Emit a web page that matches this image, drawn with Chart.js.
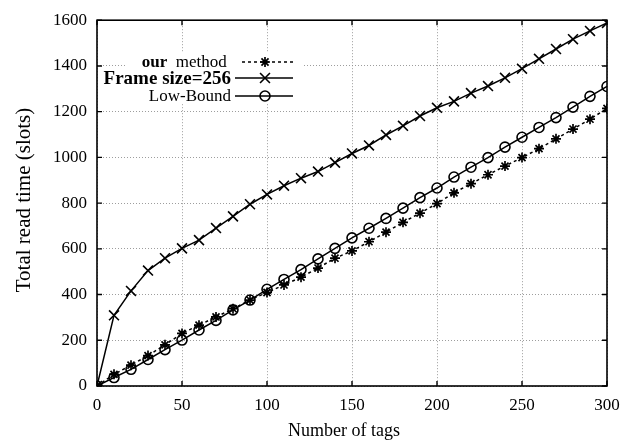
<!DOCTYPE html>
<html>
<head>
<meta charset="utf-8">
<script src="https://cdn.jsdelivr.net/npm/chart.js@4/dist/chart.umd.min.js"></script>
<style>
  html, body { margin: 0; padding: 0; background: #fff; }
  #wrap { width: 631px; height: 443px; }
</style>
</head>
<body>
<div id="wrap"><canvas id="c" width="631" height="443"></canvas></div>
<script>
// ---- data ----
const tags = [0,10,20,30,40,50,60,70,80,90,100,110,120,130,140,150,160,170,180,190,200,210,220,230,240,250,260,270,280,290,300];
const ourMethod = [0,51,91,133,180,230,266,302,338,376,409,442,476,516,559,591,631,673,716,756,798,845,885,924,962,999,1038,1081,1124,1167,1214];
const frame256 = [0,309,416,505,559,602,638,691,742,795,838,876,909,938,977,1017,1052,1098,1138,1181,1217,1245,1281,1312,1348,1388,1431,1474,1517,1553,1588];
const lowBound = [0,37,73,116,159,201,245,287,333,376,423,466,509,556,602,648,690,733,778,824,866,914,957,999,1045,1088,1131,1174,1220,1267,1310];
const seriesLabels = ['our  method', 'Frame size=256', 'Low-Bound'];
const xTicks = [0,50,100,150,200,250,300];
const yTicks = [0,200,400,600,800,1000,1200,1400,1600];
const xTitle = 'Number of tags';
const yTitle = 'Total read time (slots)';

const SERIF = '"Liberation Serif", "Times New Roman", serif';
const toXY = (arr) => arr.map((v, i) => ({ x: tags[i], y: v }));

const legendFonts = [
  [{ t: 'our', f: 'bold 17px ' + SERIF }, { t: '  method ', f: '17px ' + SERIF }],
  [{ t: 'Frame size=256', f: 'bold 19px ' + SERIF }],
  [{ t: 'Low-Bound', f: '17px ' + SERIF }]
];

const framePlugin = {
  id: 'gnuplotFrame',
  afterDraw(chart) {
    const ctx = chart.ctx;
    const a = chart.chartArea;
    const xs = chart.scales.x, ys = chart.scales.y;
    ctx.save();
    // legend (white box + entries)
    ctx.fillStyle = '#fff';
    ctx.fillRect(127, 53, 176, 51);
    const rowsY = [62, 78, 96];
    const textRight = 231;
    chart.data.datasets.forEach((ds, i) => {
      const y = rowsY[i];
      const parts = legendFonts[i];
      let total = 0;
      parts.forEach(p => { ctx.font = p.f; total += ctx.measureText(p.t).width; });
      let x = textRight - total;
      ctx.fillStyle = '#000';
      ctx.textBaseline = 'middle';
      ctx.textAlign = 'left';
      parts.forEach(p => { ctx.font = p.f; ctx.fillText(p.t, x, y + 1); x += ctx.measureText(p.t).width; });
      ctx.strokeStyle = '#000';
      ctx.lineWidth = ds.borderWidth;
      ctx.setLineDash(ds.borderDash || []);
      ctx.beginPath();
      ctx.moveTo(i === 0 ? 242 : 235, y);
      ctx.lineTo(293, y);
      ctx.stroke();
      ctx.setLineDash([]);
      ctx.lineWidth = ds.pointBorderWidth;
      ctx.fillStyle = ds.pointBackgroundColor;
      Chart.helpers.drawPoint(ctx, { pointStyle: ds.pointStyle, radius: ds.pointRadius, rotation: 0, borderWidth: ds.pointBorderWidth }, 265, y);
    });
    // border
    ctx.setLineDash([]);
    ctx.strokeStyle = '#000';
    ctx.lineWidth = 1.6;
    ctx.strokeRect(a.left, a.top, a.right - a.left, a.bottom - a.top);
    // inward ticks
    ctx.lineWidth = 1.4;
    const tl = 5;
    ctx.beginPath();
    xTicks.forEach(v => {
      const px = xs.getPixelForValue(v);
      ctx.moveTo(px, a.bottom); ctx.lineTo(px, a.bottom - tl);
      ctx.moveTo(px, a.top); ctx.lineTo(px, a.top + tl);
    });
    yTicks.forEach(v => {
      const py = ys.getPixelForValue(v);
      ctx.moveTo(a.left, py); ctx.lineTo(a.left + tl, py);
      ctx.moveTo(a.right, py); ctx.lineTo(a.right - tl, py);
    });
    ctx.stroke();
    // axis titles
    ctx.fillStyle = '#000';
    ctx.textAlign = 'center';
    ctx.textBaseline = 'middle';
    ctx.font = '18px ' + SERIF;
    ctx.fillText(xTitle, 344, 431);
    ctx.translate(24, 200);
    ctx.rotate(-Math.PI / 2);
    ctx.font = '21px ' + SERIF;
    ctx.fillText(yTitle, 0, 0);
    ctx.restore();
  }
};

new Chart(document.getElementById('c'), {
  type: 'line',
  data: {
    datasets: [
      {
        label: seriesLabels[0], data: toXY(ourMethod),
        borderColor: '#000', borderWidth: 1.5, borderDash: [3, 3],
        pointStyle: 'star', pointRadius: 5, pointBorderWidth: 1.7,
        pointBorderColor: '#000', pointBackgroundColor: '#000', fill: false, tension: 0
      },
      {
        label: seriesLabels[1], data: toXY(frame256),
        borderColor: '#000', borderWidth: 1.5, borderDash: [],
        pointStyle: 'crossRot', pointRadius: 7, pointBorderWidth: 1.6,
        pointBorderColor: '#000', pointBackgroundColor: '#000', fill: false, tension: 0
      },
      {
        label: seriesLabels[2], data: toXY(lowBound),
        borderColor: '#000', borderWidth: 1.5, borderDash: [],
        pointStyle: 'circle', pointRadius: 5, pointBorderWidth: 1.6,
        pointBorderColor: '#000', pointBackgroundColor: 'rgba(255,255,255,0)', fill: false, tension: 0
      }
    ]
  },
  options: {
    responsive: false,
    animation: false,
    events: [],
    layout: { padding: { left: 0, right: 24, top: 14, bottom: 0 } },
    plugins: { legend: { display: false }, tooltip: { enabled: false } },
    scales: {
      x: {
        type: 'linear', min: 0, max: 300,
        afterFit: (s) => { s.height = 57; },
        afterBuildTicks: (s) => { s.ticks = xTicks.map(v => ({ value: v })); },
        ticks: { color: '#000', font: { family: SERIF, size: 17 }, padding: 9, maxRotation: 0, callback: (v) => String(v) },
        grid: { color: 'rgba(140,140,140,0.85)', lineWidth: 1, drawTicks: false },
        border: { display: false, dash: [1, 2] }
      },
      y: {
        type: 'linear', min: 0, max: 1600,
        afterFit: (s) => { s.width = 97; },
        afterBuildTicks: (s) => { s.ticks = yTicks.map(v => ({ value: v })); },
        ticks: { color: '#000', font: { family: SERIF, size: 17 }, padding: 10, callback: (v) => String(v) },
        grid: { color: 'rgba(140,140,140,0.85)', lineWidth: 1, drawTicks: false },
        border: { display: false, dash: [1, 2] }
      }
    }
  },
  plugins: [framePlugin]
});
</script>
</body>
</html>
